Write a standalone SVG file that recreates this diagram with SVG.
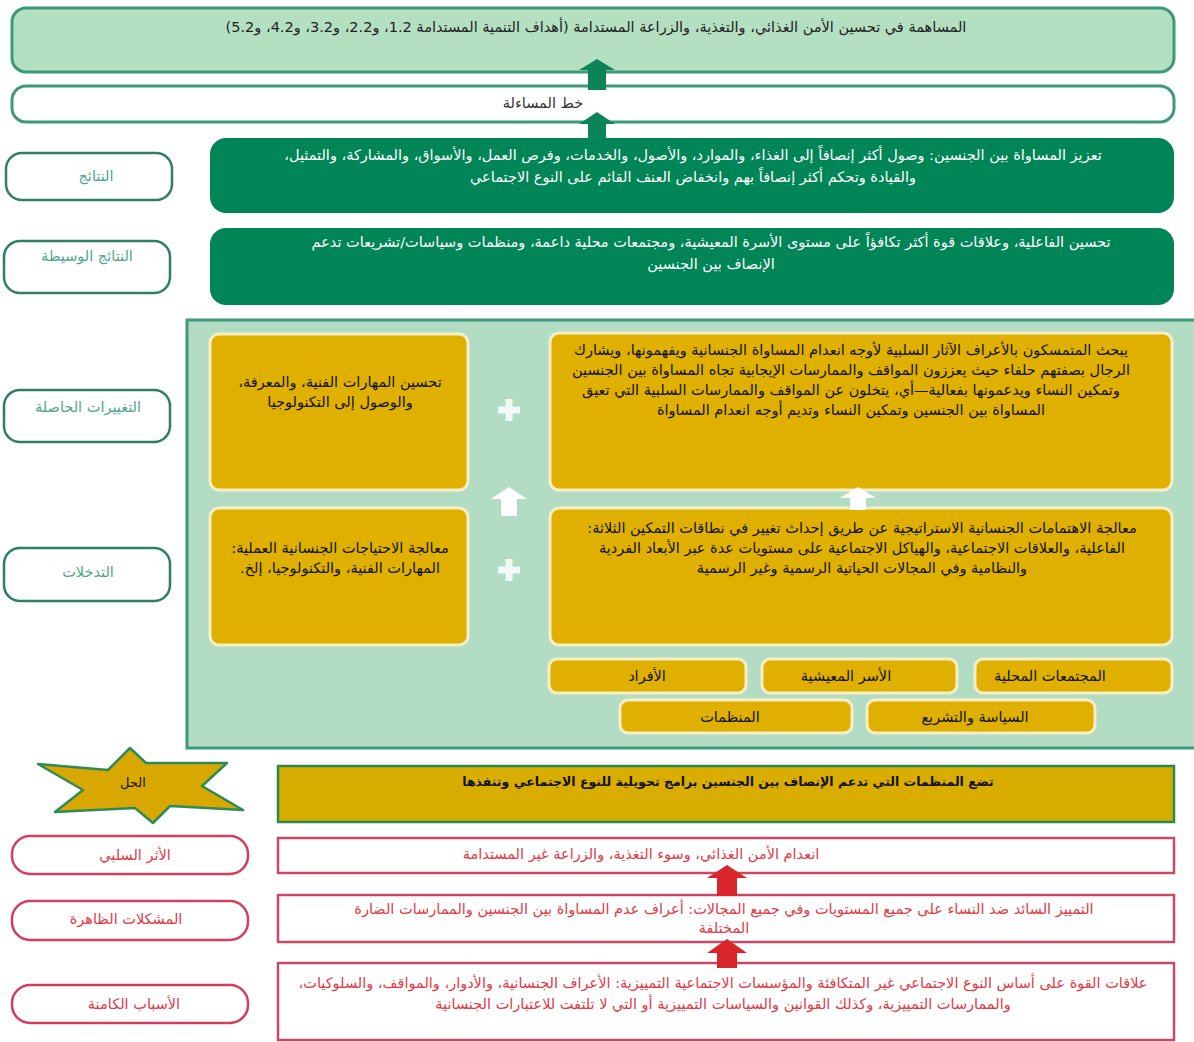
<svg xmlns="http://www.w3.org/2000/svg" width="1194" height="1042" viewBox="0 0 1194 1042">
<style>
text{font-family:"DejaVu Sans","Noto Sans",sans-serif;direction:rtl;text-anchor:middle;font-size:14.5px}
.lab{fill:#fff;stroke:#2f7f66;stroke-width:2.5}
.labt{fill:#4fa58c}
.dg{fill:#008556}
.wt{fill:#fff}
.yb{fill:#dfb000;stroke:#f6eec4;stroke-width:3}
.bt{fill:#111}
.rl{fill:#fff;stroke:#d33f5c;stroke-width:2.5}
.rb{fill:#fff;stroke:#c94865;stroke-width:2.5}
.rt{fill:#e23a45}
</style>
<rect width="1194" height="1042" fill="#fff"/>
<g id="goal"><rect x="12" y="8" width="1162" height="64" rx="14" fill="#b5dfc1" stroke="#3d9a78" stroke-width="3"/>
<text x="596" y="32" fill="#222">المساهمة في تحسين الأمن الغذائي، والتغذية، والزراعة المستدامة (أهداف التنمية المستدامة 1.2، و2.2، و3.2، و4.2، و5.2)</text></g>
<g id="accountability"><rect x="12" y="86" width="1162" height="36" rx="14" fill="#fff" stroke="#3d9a78" stroke-width="3"/>
<text x="543" y="108" fill="#333">خط المساءلة</text></g>
<g id="lab-results"><rect class="lab" x="6" y="153" width="166" height="47" rx="16"/><text class="labt" x="96" y="181">النتائج</text></g>
<g id="lab-intermediate"><rect class="lab" x="4" y="241" width="166" height="52" rx="16"/><text class="labt" x="87" y="261">النتائج الوسيطة</text></g>
<g id="lab-changes"><rect class="lab" x="4" y="390" width="166" height="52" rx="16"/><text class="labt" x="88" y="412">التغييرات الحاصلة</text></g>
<g id="lab-interventions"><rect class="lab" x="4" y="548" width="166" height="53" rx="16"/><text class="labt" x="88" y="577">التدخلات</text></g>
<g id="outcome"><rect class="dg" x="210" y="138" width="964" height="75" rx="16"/>
<text class="wt" x="693" y="160">تعزيز المساواة بين الجنسين: وصول أكثر إنصافاً إلى الغذاء، والموارد، والأصول، والخدمات، وفرص العمل، والأسواق، والمشاركة، والتمثيل،</text>
<text class="wt" x="693" y="182">والقيادة وتحكم أكثر إنصافاً بهم وانخفاض العنف القائم على النوع الاجتماعي</text></g>
<g id="intermediate"><rect class="dg" x="210" y="228" width="964" height="77" rx="16"/>
<text class="wt" x="711" y="247">تحسين الفاعلية، وعلاقات قوة أكثر تكافؤاً على مستوى الأسرة المعيشية، ومجتمعات محلية داعمة، ومنظمات وسياسات/تشريعات تدعم</text>
<text class="wt" x="711" y="269">الإنصاف بين الجنسين</text></g>
<g id="panel"><rect x="187" y="320" width="1012" height="428" fill="#b3dcc5" stroke="#3f9a7c" stroke-width="3"/></g>
<g id="change-right"><rect class="yb" x="550" y="333" width="622" height="157" rx="9"/>
<text class="bt" x="851" y="355">يبحث المتمسكون بالأعراف الآثار السلبية لأوجه انعدام المساواة الجنسانية ويفهمونها، ويشارك</text>
<text class="bt" x="851" y="375">الرجال بصفتهم حلفاء حيث يعززون المواقف والممارسات الإيجابية تجاه المساواة بين الجنسين</text>
<text class="bt" x="851" y="395">وتمكين النساء ويدعمونها بفعالية—أي، يتخلون عن المواقف والممارسات السلبية التي تعيق</text>
<text class="bt" x="851" y="415">المساواة بين الجنسين وتمكين النساء وتديم أوجه انعدام المساواة</text></g>
<g id="change-left"><rect class="yb" x="210" y="334" width="258" height="156" rx="9"/>
<text class="bt" x="340" y="387">تحسين المهارات الفنية، والمعرفة،</text>
<text class="bt" x="340" y="407">والوصول إلى التكنولوجيا</text></g>
<g id="intervention-right"><rect class="yb" x="550" y="508" width="622" height="137" rx="9"/>
<text class="bt" x="862" y="533">معالجة الاهتمامات الجنسانية الاستراتيجية عن طريق إحداث تغيير في نطاقات التمكين الثلاثة:</text>
<text class="bt" x="862" y="553">الفاعلية، والعلاقات الاجتماعية، والهياكل الاجتماعية على مستويات عدة عبر الأبعاد الفردية</text>
<text class="bt" x="862" y="573">والنظامية وفي المجالات الحياتية الرسمية وغير الرسمية</text></g>
<g id="intervention-left"><rect class="yb" x="210" y="508" width="258" height="137" rx="9"/>
<text class="bt" x="340" y="553">معالجة الاحتياجات الجنسانية العملية:</text>
<text class="bt" x="340" y="573">المهارات الفنية، والتكنولوجيا، إلخ.</text></g>
<g id="lvl-communities"><rect class="yb" x="975" y="659" width="197" height="34" rx="8"/><text class="bt" x="1050" y="681">المجتمعات المحلية</text></g>
<g id="lvl-households"><rect class="yb" x="762" y="659" width="195" height="34" rx="8"/><text class="bt" x="846" y="681">الأسر المعيشية</text></g>
<g id="lvl-individuals"><rect class="yb" x="549" y="659" width="197" height="34" rx="8"/><text class="bt" x="647" y="681">الأفراد</text></g>
<g id="lvl-policy"><rect class="yb" x="867" y="700" width="228" height="33" rx="8"/><text class="bt" x="975" y="722">السياسة والتشريع</text></g>
<g id="lvl-orgs"><rect class="yb" x="620" y="700" width="232" height="33" rx="8"/><text class="bt" x="730" y="722">المنظمات</text></g>
<g id="star-solution"><polygon points="130,748 146,763 227,763 202,786 243,810 170,806 153,823 135,808 55,812 83,790 38,764 108,770" fill="#d9a800" stroke="#2e8b57" stroke-width="2.5" stroke-linejoin="round"/>
<text class="bt" x="133" y="787" style="font-size:13px">الحل</text></g>
<g id="solution"><rect x="278" y="766" width="896" height="56" fill="#d9ac00" stroke="#2a8a50" stroke-width="2.5"/>
<text class="bt" x="728" y="786" style="font-size:12.5px;font-weight:bold">تضع المنظمات التي تدعم الإنصاف بين الجنسين برامج تحويلية للنوع الاجتماعي وتنفذها</text></g>
<g id="lab-impact"><rect class="rl" x="12" y="836" width="236" height="38" rx="18"/><text class="rt" x="135" y="860">الأثر السلبي</text></g>
<g id="lab-problems"><rect class="rl" x="12" y="901" width="236" height="39" rx="18"/><text class="rt" x="126" y="924">المشكلات الظاهرة</text></g>
<g id="lab-causes"><rect class="rl" x="12" y="985" width="236" height="38" rx="18"/><text class="rt" x="134" y="1009">الأسباب الكامنة</text></g>
<g id="impact"><rect class="rb" x="278" y="838" width="896" height="35"/>
<text class="rt" x="641" y="859">انعدام الأمن الغذائي، وسوء التغذية، والزراعة غير المستدامة</text></g>
<g id="problems"><rect class="rb" x="278" y="895" width="896" height="47"/>
<text class="rt" x="724" y="914">التمييز السائد ضد النساء على جميع المستويات وفي جميع المجالات: أعراف عدم المساواة بين الجنسين والممارسات الضارة</text>
<text class="rt" x="724" y="933">المختلفة</text></g>
<g id="causes"><rect class="rb" x="278" y="963" width="896" height="77"/>
<text class="rt" x="723" y="988">علاقات القوة على أساس النوع الاجتماعي غير المتكافئة والمؤسسات الاجتماعية التمييزية: الأعراف الجنسانية، والأدوار، والمواقف، والسلوكيات،</text>
<text class="rt" x="723" y="1009">والممارسات التمييزية، وكذلك القوانين والسياسات التمييزية أو التي لا تلتفت للاعتبارات الجنسانية</text></g>
<g id="connectors">
<polygon points="597,59 615,70 606,70 606,90 588,90 588,70 579,70" fill="#0b8457"/>
<polygon points="597,112 615,124 606,124 606,139 588,139 588,124 579,124" fill="#0b8457"/>
<polygon points="509,487 527,499 517,499 517,516 501,516 501,499 491,499" fill="#fff"/>
<polygon points="858,487 876,498 866,498 866,510 850,510 850,498 840,498" fill="#fff"/>
<path d="M498,410h22M509,399v22M498,570h22M509,559v22" stroke="#fff" stroke-width="7" opacity="0.85"/>
<polygon points="727,865 747,878 737,878 737,896 717,896 717,878 707,878" fill="#d8262a"/>
<polygon points="727,939 747,953 737,953 737,968 717,968 717,953 707,953" fill="#d8262a"/>
</g>
</svg>
